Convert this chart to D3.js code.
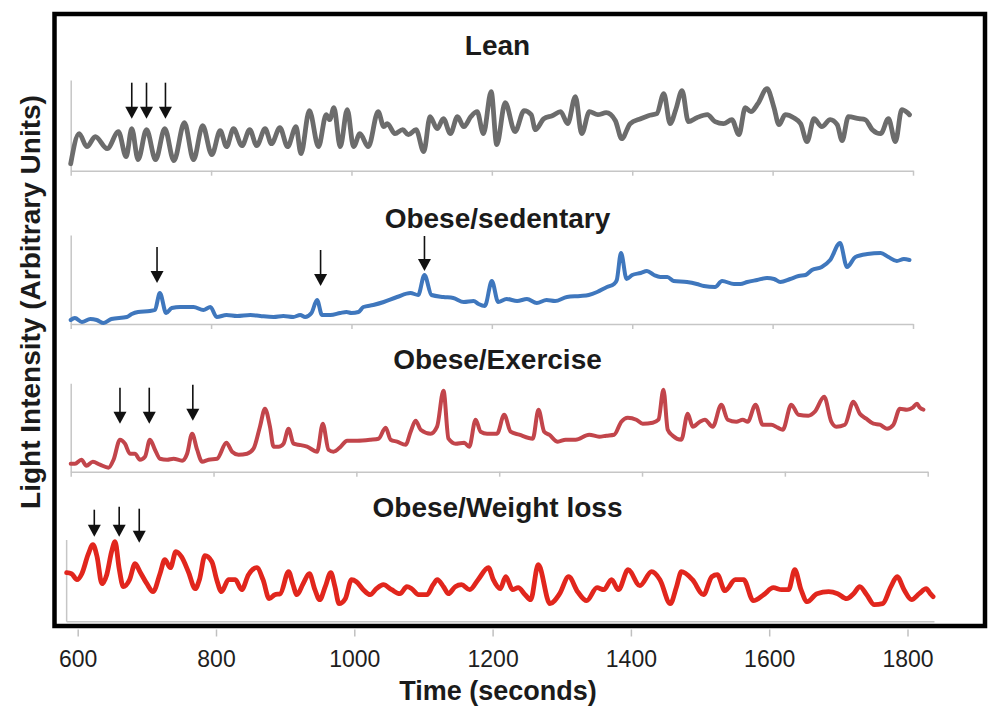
<!DOCTYPE html>
<html>
<head>
<meta charset="utf-8">
<script src="https://cdn.jsdelivr.net/npm/d3@7"></script>
<style>
  html, body { margin: 0; padding: 0; background: #fff; }
  svg { display: block; font-family: "Liberation Sans", Arial, Helvetica, sans-serif; }
</style>
</head>
<body>
<svg id="chart" width="989" height="707"></svg>
<script>
// ---- data (time in seconds, light intensity in arbitrary units) ----
var xTicks = [600, 800, 1000, 1200, 1400, 1600, 1800];

var leanT = [600, 612, 623, 635, 652, 668, 679, 687, 696, 708, 721, 734, 747, 762, 775, 788, 801, 813, 822, 832, 844, 855, 865, 877, 886, 898, 909, 921, 928, 940, 953, 964, 969, 975, 984, 994, 1003, 1012, 1024, 1038, 1046, 1051, 1062, 1073, 1081, 1092, 1103, 1112, 1122, 1131, 1141, 1151, 1160, 1170, 1179, 1188, 1199, 1207,
             1219, 1233, 1246, 1256, 1262, 1274, 1286, 1298, 1308, 1319, 1328, 1339, 1351, 1363, 1376, 1385, 1397, 1412, 1423, 1435, 1445, 1454, 1462, 1471, 1480, 1492, 1507, 1518, 1530, 1542, 1552, 1561, 1569, 1579, 1592, 1602, 1609, 1618, 1630, 1640, 1649, 1659, 1670, 1682, 1692, 1699, 1708, 1723, 1732, 1742, 1754, 1765, 1775, 1784, 1792, 1795];
var leanV = [7, 37, 24, 34, 22, 39, 14, 42, 11, 41, 11, 42, 10, 48, 11, 45, 16, 40, 24, 42, 25, 41, 25, 42, 27, 43, 24, 44, 17, 60, 24, 56, 51, 63, 24, 61, 24, 37, 24, 59, 44, 47, 37, 41, 36, 41, 19, 54, 42, 52, 37, 54, 44, 54, 59, 37, 79, 26,
             68, 39, 60, 56, 41, 52, 55, 59, 47, 74, 37, 59, 56, 58, 50, 32, 47, 52, 55, 57, 77, 47, 61, 80, 49, 53, 56, 49, 47, 51, 36, 63, 59, 67, 82, 63, 46, 56, 53, 47, 29, 52, 44, 51, 46, 30, 54, 52, 51, 41, 37, 52, 29, 61, 58, 56];

var sedT = [600, 606, 616, 628, 637, 647, 658, 680, 687, 696, 713, 720, 727, 736, 744, 756, 775, 789, 799, 808, 822, 837, 856, 870, 889, 903, 917, 927, 934, 943, 951, 958, 970, 984, 993, 1000, 1010, 1017, 1031, 1046, 1065, 1084, 1095, 1104, 1114, 1131, 1145, 1160, 1174, 1181, 1190, 1200, 1209, 1221, 1236, 1250, 1264, 1278,
            1290, 1307, 1326, 1338, 1350, 1364, 1374, 1378, 1384, 1392, 1400, 1412, 1421, 1431, 1440, 1450, 1459, 1478, 1492, 1502, 1518, 1528, 1545, 1554, 1564, 1578, 1592, 1602, 1611, 1625, 1637, 1647, 1656, 1670, 1682, 1696, 1706, 1718, 1735, 1754, 1765, 1777, 1787, 1795];
var sedV = [4, 6, 2, 5, 4, 1, 5, 7, 10, 12, 13, 14, 31, 11, 16, 17, 17, 14, 17, 7, 9, 8, 9, 8, 7, 8, 7, 9, 7, 11, 24, 9, 9, 11, 12, 11, 12, 17, 19, 22, 27, 31, 29, 49, 29, 27, 26, 22, 23, 20, 18, 43, 22, 25, 23, 25, 21, 24,
            23, 27, 28, 29, 32, 37, 40, 44, 71, 45, 49, 51, 53, 49, 47, 47, 43, 42, 40, 38, 37, 43, 40, 40, 42, 44, 46, 45, 42, 45, 48, 49, 54, 57, 64, 81, 57, 67, 70, 71, 67, 63, 65, 64];

var exeT = [600, 606, 615, 622, 631, 641, 653, 660, 669, 676, 683, 690, 697, 704, 711, 718, 725, 735, 744, 756, 763, 770, 777, 784, 793, 805, 818, 826, 835, 847, 856, 865, 872, 879, 884, 891, 898, 905, 912, 919, 931, 945, 953, 961, 968, 978, 987, 1001, 1020, 1031, 1041, 1048, 1057, 1069, 1076, 1083, 1090, 1104, 1113, 1122, 1129, 1139, 1151, 1158, 1167, 1174, 1183, 1197,
            1207, 1216, 1228, 1247, 1255, 1263, 1270, 1282, 1293, 1307, 1326, 1340, 1350, 1361, 1371, 1380, 1392, 1401, 1415, 1423, 1430, 1436, 1443, 1455, 1464, 1471, 1481, 1488, 1499, 1511, 1520, 1532, 1541, 1548, 1559, 1569, 1581, 1590, 1597, 1609, 1619, 1633, 1642, 1655, 1665, 1672, 1684, 1696, 1705, 1714, 1724, 1733, 1743, 1752, 1761, 1771, 1779, 1785, 1789, 1794];
var exeV = [8, 8, 12, 6, 10, 7, 4, 12, 32, 28, 18, 18, 12, 15, 32, 22, 13, 12, 13, 11, 18, 38, 22, 10, 12, 13, 29, 20, 17, 18, 23, 45, 63, 45, 25, 25, 28, 43, 28, 27, 25, 20, 48, 22, 20, 25, 31, 31, 32, 33, 44, 32, 30, 27, 40, 51, 42, 38, 45, 81, 33, 28, 29, 25, 52, 40, 38, 38,
            57, 40, 37, 33, 62, 40, 37, 30, 32, 32, 37, 35, 36, 37, 50, 54, 52, 48, 49, 52, 82, 42, 36, 32, 58, 45, 50, 52, 45, 67, 52, 50, 52, 50, 67, 47, 47, 44, 42, 67, 57, 56, 60, 75, 50, 45, 47, 70, 58, 53, 48, 47, 43, 47, 63, 62, 64, 68, 64, 62];

var wlT = [584, 591, 599, 606, 615, 622, 628, 635, 642, 649, 654, 660, 666, 675, 683, 690, 700, 709, 719, 726, 734, 742, 750, 760, 770, 776, 784, 794, 801, 808, 818, 828, 837, 847, 859, 868, 877, 885, 893, 905, 911, 917, 926, 935, 943, 950, 958, 966, 972, 978, 987, 996, 1003, 1013, 1023, 1032, 1042, 1054, 1066, 1076, 1083, 1093, 1105, 1114, 1120, 1129, 1136, 1146, 1155, 1167, 1179, 1194, 1201,
           1211, 1219, 1229, 1237, 1247, 1255, 1266, 1283, 1297, 1310, 1323, 1336, 1351, 1361, 1372, 1382, 1396, 1413, 1430, 1442, 1457, 1466, 1473, 1489, 1505, 1517, 1525, 1536, 1551, 1563, 1577, 1592, 1606, 1618, 1628, 1637, 1646, 1655, 1669, 1686, 1699, 1712, 1722, 1731, 1741, 1752, 1764, 1776, 1785, 1795, 1806, 1817, 1827, 1833, 1837];
var wlV = [49, 48, 42, 48, 67, 77, 65, 38, 47, 70, 80, 53, 35, 42, 58, 50, 38, 30, 48, 62, 54, 70, 65, 50, 33, 42, 66, 60, 42, 30, 42, 42, 32, 47, 54, 42, 23, 27, 28, 50, 38, 27, 38, 48, 32, 22, 35, 49, 35, 18, 23, 42, 40, 32, 27, 33, 37, 32, 28, 35, 33, 27, 27, 37, 42, 35, 28, 35, 37, 32, 42, 54, 42,
           33, 45, 32, 34, 27, 22, 57, 18, 28, 45, 30, 21, 34, 32, 42, 32, 52, 36, 50, 42, 18, 35, 50, 42, 27, 45, 47, 31, 42, 42, 21, 27, 34, 32, 32, 52, 32, 20, 28, 30, 28, 23, 28, 35, 27, 17, 18, 35, 45, 32, 22, 28, 33, 28, 25];

// arrows: time, shaft top value, tip value
var leanArrowT = [687, 708, 735], leanArrowTop = [88, 88, 88], leanArrowTip = [52, 52, 52];
var sedArrowT = [723, 956, 1104], sedArrowTop = [77, 74, 88], sedArrowTip = [41, 38, 53];
var exeArrowT = [669, 710, 771], exeArrowTop = [84, 84, 87], exeArrowTip = [48, 48, 51];
var wlArrowT = [624, 660, 689], wlArrowTop = [112, 115, 113], wlArrowTip = [85, 85, 79];

var titles = ["Lean", "Obese/sedentary", "Obese/Exercise", "Obese/Weight loss"];

// ---- layout ----
var svg = d3.select("#chart");
var axisColor = "#c6c6c6";

var panels = [
  {title: titles[0], t: leanT, v: leanV, at: leanArrowT, atop: leanArrowTop, atip: leanArrowTip,
   color: "#6c6c6c", lw: 4.8, x0: 70.7, x1: 913, base: 170.7, top: 80, vmax: 90.7, titleY: 55, ticks: true},
  {title: titles[1], t: sedT, v: sedV, at: sedArrowT, atop: sedArrowTop, atip: sedArrowTip,
   color: "#3f77bd", lw: 4, x0: 70.7, x1: 913, base: 324, top: 235, vmax: 89, titleY: 228, ticks: true},
  {title: titles[2], t: exeT, v: exeV, at: exeArrowT, atop: exeArrowTop, atip: exeArrowTip,
   color: "#c2454b", lw: 4, x0: 70.7, x1: 927.7, base: 471.7, top: 383.3, vmax: 88.4, titleY: 369, ticks: true},
  {title: titles[3], t: wlT, v: wlV, at: wlArrowT, atop: wlArrowTop, atip: wlArrowTip,
   color: "#e1261d", lw: 4.8, x0: 77.7, x1: 907.5, base: 621.7, top: 540, vmax: 81.7, titleY: 516.5, ticks: false}
];

panels.forEach(function(p){
  var x = d3.scaleLinear().domain([600, 1800]).range([p.x0, p.x1]);
  var y = d3.scaleLinear().domain([0, p.vmax]).range([p.base, p.top]);
  var g = svg.append("g");

  // light grey axes of each trace
  if(p.ticks){
    var ax = g.append("g")
      .attr("transform", "translate(0," + p.base + ")")
      .call(d3.axisBottom(x).tickValues(xTicks).tickSize(5).tickSizeOuter(0).tickFormat(""));
    ax.selectAll("path, line").attr("stroke", axisColor).attr("stroke-width", 1.5);
    var ay = g.append("g")
      .attr("transform", "translate(" + p.x0 + ",0)")
      .call(d3.axisLeft(y).tickValues([]).tickSizeOuter(0));
    ay.selectAll("path").attr("stroke", axisColor).attr("stroke-width", 1.5);
  } else {
    var tStart = p.t[0], tEnd = p.t[p.t.length - 1] + 2;
    g.append("line").attr("x1", x(tStart)).attr("x2", x(tEnd))
      .attr("y1", p.base).attr("y2", p.base)
      .attr("stroke", axisColor).attr("stroke-width", 1.5);
    g.append("line").attr("x1", x(tStart)).attr("x2", x(tStart))
      .attr("y1", p.base).attr("y2", p.top)
      .attr("stroke", axisColor).attr("stroke-width", 1.5);
  }

  var pts = p.t.map(function(d, i){ return [d, p.v[i]]; });
  var line = d3.line()
    .x(function(d){ return x(d[0]); })
    .y(function(d){ return y(d[1]); })
    .curve(d3.curveMonotoneX);
  g.append("path").datum(pts)
    .attr("d", line)
    .attr("fill", "none")
    .attr("stroke", p.color)
    .attr("stroke-width", p.lw)
    .attr("stroke-linejoin", "round")
    .attr("stroke-linecap", "round");

  // arrows
  p.at.forEach(function(t, i){
    var ax0 = x(t), yTop = y(p.atop[i]), yTip = y(p.atip[i]);
    var headH = 12, headW = 6.5;
    g.append("line")
      .attr("x1", ax0).attr("x2", ax0)
      .attr("y1", yTop).attr("y2", yTip - headH + 1)
      .attr("stroke", "#111").attr("stroke-width", 1.6);
    g.append("path")
      .attr("d", "M" + (ax0 - headW) + "," + (yTip - headH) + "L" + (ax0 + headW) + "," + (yTip - headH) + "L" + ax0 + "," + yTip + "Z")
      .attr("fill", "#111");
  });

  g.append("text")
    .attr("x", 497.5).attr("y", p.titleY)
    .attr("text-anchor", "middle")
    .attr("font-size", 28).attr("font-weight", "bold")
    .attr("fill", "#1b1b1b")
    .text(p.title);
});

// frame round the four traces
svg.append("rect")
  .attr("x", 54.5).attr("y", 14)
  .attr("width", 930.5).attr("height", 612)
  .attr("fill", "none").attr("stroke", "#000").attr("stroke-width", 4.5);

// shared time axis
var xb = d3.scaleLinear().domain([600, 1800]).range([77.7, 907.5]);
var bx = svg.append("g")
  .attr("transform", "translate(0,629.5)")
  .call(d3.axisBottom(xb).tickValues(xTicks).tickSize(7).tickFormat(d3.format("d")));
bx.select(".domain").remove();
bx.selectAll("line").attr("stroke", "#c0c0c0").attr("stroke-width", 1.5);
bx.selectAll("text")
  .attr("y", 37.5).attr("dy", 0)
  .attr("font-size", 23)
  .attr("font-family", "Liberation Sans, Arial, sans-serif")
  .attr("fill", "#1e1e1e");

svg.append("text")
  .attr("x", 498).attr("y", 700)
  .attr("text-anchor", "middle")
  .attr("font-size", 27).attr("font-weight", "bold")
  .attr("fill", "#1b1b1b")
  .text("Time (seconds)");

svg.append("text")
  .attr("transform", "translate(40,302) rotate(-90)")
  .attr("text-anchor", "middle")
  .attr("font-size", 28).attr("font-weight", "bold")
  .attr("fill", "#1b1b1b")
  .text("Light Intensity (Arbitrary Units)");
</script>
</body>
</html>
